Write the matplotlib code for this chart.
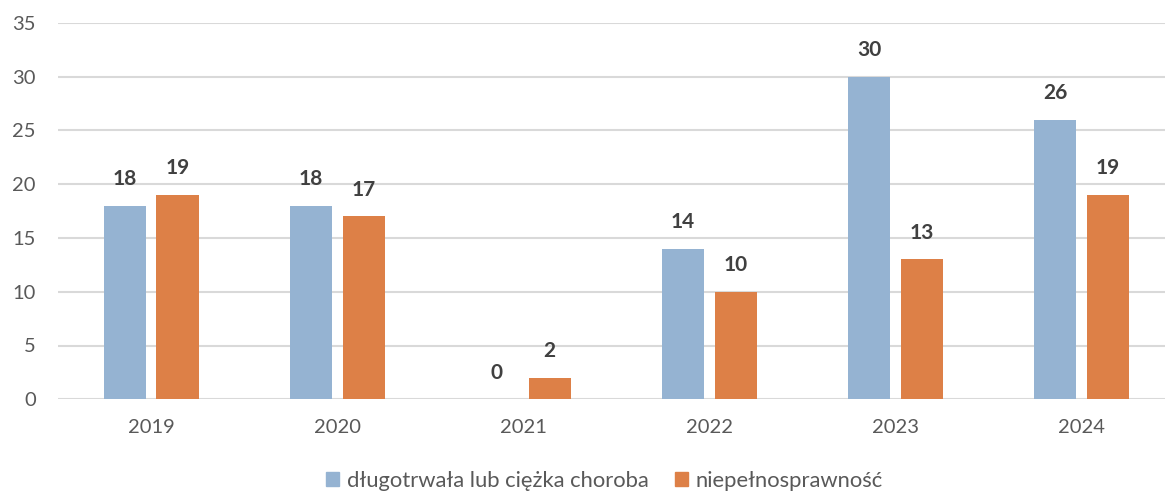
import numpy as np
from matplotlib import pyplot as plt
from matplotlib.patches import Patch

years = ['2019', '2020', '2021', '2022', '2023', '2024']
choroba = [18, 18, 0, 14, 30, 26]
niepelno = [19, 17, 2, 10, 13, 19]
labels = ['długotrwała lub ciężka choroba', 'niepełnosprawność']

blue = '#95B3D2'
orange = '#DD8047'
grey_txt = '#595959'

plt.rcParams['font.family'] = ['Lato', 'DejaVu Sans']

fig = plt.figure(figsize=(11.65, 4.93), dpi=100)
ax = fig.add_axes([58/1165, (493-399.3)/493, 1 - 58/1165, (399.3-22.7)/493])

x = np.arange(len(years))
w = 0.226
off = 0.142
b1 = ax.bar(x - off, choroba, w, color=blue)
b2 = ax.bar(x + off, niepelno, w, color=orange)

for bars, vals in [(b1, choroba), (b2, niepelno)]:
    for r, v in zip(bars, vals):
        ax.annotate(str(v), (r.get_x() + r.get_width()/2, v), xytext=(0, 12),
                    textcoords='offset points', ha='center', va='bottom',
                    fontsize=15, fontweight='bold', color='#404040')

ax.set_xlim(-0.5, 5.448)
ax.set_ylim(0, 35)
ax.set_yticks(range(0, 36, 5))
ax.set_xticks(x)
ax.set_xticklabels(years)
ax.yaxis.grid(True, color='#D9D9D9', linewidth=1.5)
ax.set_axisbelow(True)
for s in ax.spines.values():
    s.set_visible(False)
ax.tick_params(axis='both', length=0, labelsize=14.5, labelcolor=grey_txt)
ax.tick_params(axis='y', pad=16)
ax.tick_params(axis='x', pad=14)

handles = [Patch(color=blue), Patch(color=orange)]
fig.legend(handles, labels, loc='center', bbox_to_anchor=(0.519, 0.024), ncol=2,
           frameon=False, fontsize=15.8, labelcolor=grey_txt,
           handlelength=0.6, handleheight=0.6, handletextpad=0.35, columnspacing=1.2)

fig.savefig('out.png', dpi=100)
